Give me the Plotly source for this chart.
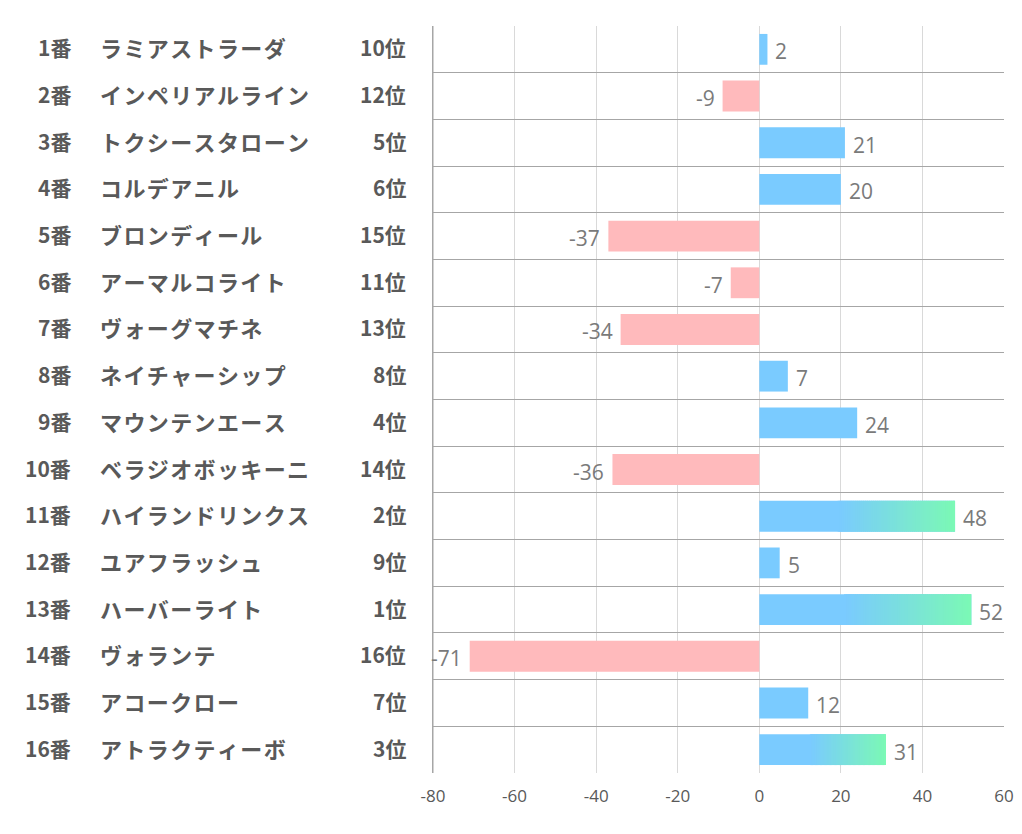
import plotly.graph_objects as go

nums = ["1番", "2番", "3番", "4番", "5番", "6番", "7番", "8番",
        "9番", "10番", "11番", "12番", "13番", "14番", "15番", "16番"]
names = ["ラミアストラーダ", "インペリアルライン", "トクシースタローン", "コルデアニル",
         "ブロンディール", "アーマルコライト", "ヴォーグマチネ", "ネイチャーシップ",
         "マウンテンエース", "ベラジオボッキーニ", "ハイランドリンクス", "ユアフラッシュ",
         "ハーバーライト", "ヴォランテ", "アコークロー", "アトラクティーボ"]
ranks = ["10位", "12位", "5位", "6位", "15位", "11位", "13位", "8位",
         "4位", "14位", "2位", "9位", "1位", "16位", "7位", "3位"]
rank_nums = [10, 12, 5, 6, 15, 11, 13, 8, 4, 14, 2, 9, 1, 16, 7, 3]
values = [2, -9, 21, 20, -37, -7, -34, 7, 24, -36, 48, 5, 52, -71, 12, 31]
tick_vals = [-80, -60, -40, -20, 0, 20, 40, 60]
tick_text = ["-80", "-60", "-40", "-20", "0", "20", "40", "60"]

BLUE = (122, 203, 255)
PINK = (255, 186, 188)
GREEN = (124, 249, 182)

def rgb(c):
    return "rgb(%d,%d,%d)" % c

rows = list(range(len(values)))
bar_w = 0.66

fig = go.Figure()
fig.add_trace(go.Bar(
    x=values, y=rows, orientation="h", width=bar_w,
    marker=dict(color=[rgb(BLUE) if v > 0 else rgb(PINK) for v in values], line=dict(width=0)),
    hoverinfo="skip", showlegend=False,
))

# gradient overlay for top-3 ranked bars
N = 60
start = 0.4
g_rows = [r for r in rows if rank_nums[r] <= 3]
for k in range(N):
    t = k / (N - 1)
    col = tuple(BLUE[j] + (GREEN[j] - BLUE[j]) * t for j in range(3))
    bases, lens = [], []
    for r in g_rows:
        v = values[r]
        seg = v * (1 - start) / N
        bases.append(v * start + seg * k)
        lens.append(min(seg * 1.6, v - (v * start + seg * k)))
    fig.add_trace(go.Bar(
        x=lens, y=g_rows, base=bases, orientation="h", width=bar_w,
        marker=dict(color=rgb(col), line=dict(width=0)),
        hoverinfo="skip", showlegend=False,
    ))

PX0 = 433.0
PW = 571.0
annos = []
for r in rows:
    v = values[r]
    annos.append(dict(x=v, y=r, xref="x", yref="y", text=str(v), showarrow=False,
                      xanchor="left" if v > 0 else "right", xshift=6 if v > 0 else -6,
                      yshift=-2,
                      font=dict(family="Open Sans", size=21, color="#7a7a7a")))
    lab_font = dict(family="Noto Sans CJK JP", size=21, color="#595959")
    name_font = dict(family="Noto Sans CJK JP", size=22, color="#595959")
    annos.append(dict(x=(73 - PX0) / PW, y=r, xref="paper", yref="y", text="<b>%s</b>" % nums[r],
                      showarrow=False, xanchor="right", yshift=2, font=lab_font))
    annos.append(dict(x=(98 - PX0) / PW, y=r, xref="paper", yref="y",
                      text="<b>%s</b>" % "\u200a".join(names[r]),
                      showarrow=False, xanchor="left", yshift=2, font=name_font))
    annos.append(dict(x=(408 - PX0) / PW, y=r, xref="paper", yref="y", text="<b>%s</b>" % ranks[r],
                      showarrow=False, xanchor="right", yshift=2, font=lab_font))

fig.update_layout(
    width=1022, height=834,
    margin=dict(l=425, r=26, t=18, b=69),
    paper_bgcolor="white", plot_bgcolor="white",
    barmode="overlay",
    annotations=annos,
    xaxis=dict(range=[-80, 60], tickvals=tick_vals, ticktext=tick_text,
               showgrid=True, gridcolor="#d9d9d9", gridwidth=1, zeroline=False,
               showline=False, ticks="outside", ticklen=8, tickcolor="rgba(0,0,0,0)",
               tickfont=dict(family="Open Sans", size=17, color="#595959"),
               fixedrange=True),
    yaxis=dict(range=[15.5, -0.5], tickvals=[i - 0.5 for i in range(17)],
               showticklabels=False, showgrid=True, gridcolor="#a6a6a6", gridwidth=1,
               zeroline=False, showline=True, linecolor="#a6a6a6", ticks="",
               fixedrange=True),
)
fig.add_shape(type="line", xref="x", yref="paper", x0=-80, x1=-80, y0=0, y1=1,
              line=dict(color="#a6a6a6", width=1), layer="below")

fig.write_html("out.html")
